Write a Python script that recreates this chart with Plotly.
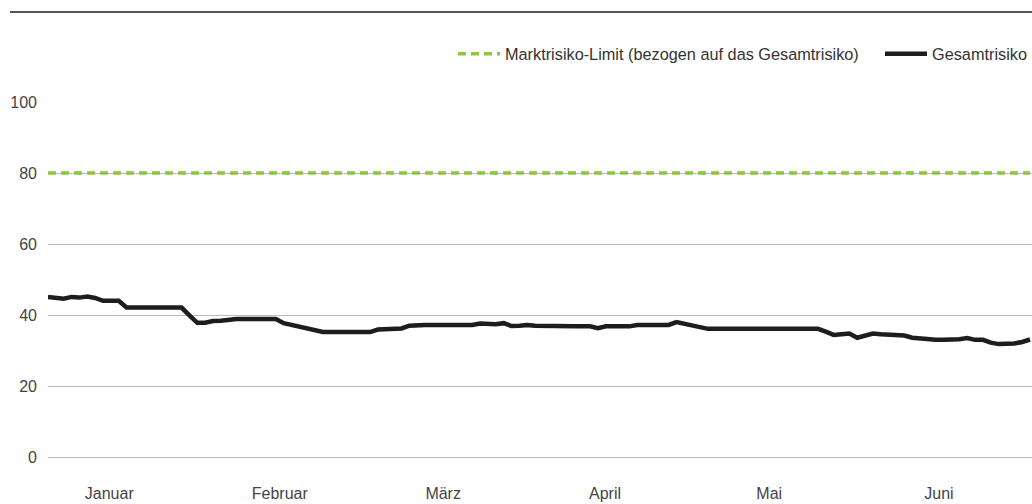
import plotly.graph_objects as go

# Gesamtrisiko, one value per trading day (H1)
gesamtrisiko = [
    45.1, 45.0, 44.6, 45.1, 44.9, 45.2, 44.8, 44.0, 44.0, 44.0,
    42.1, 42.1, 42.1, 42.1, 42.1, 42.1, 42.1, 42.1, 39.9, 37.8,
    37.8, 38.3, 38.4, 38.7, 38.9, 38.9, 38.9, 38.9, 38.9, 38.9,
    37.7, 37.2, 37.0, 36.3, 35.7, 35.2, 35.2, 35.2, 35.2, 35.2,
    35.2, 35.2, 35.9, 35.9, 35.9, 36.2, 37.0, 37.2, 37.2, 37.2,
    37.2, 37.2, 37.2, 37.2, 37.2, 37.6, 37.4, 37.4, 37.7, 36.9,
    37.0, 37.2, 37.0, 36.9, 36.8, 36.8, 36.8, 36.8, 36.8, 36.8,
    36.3, 36.8, 36.8, 36.8, 36.8, 37.2, 37.2, 37.2, 37.2, 37.2,
    38.0, 37.6, 37.0, 36.5, 36.1, 36.1, 36.1, 36.1, 36.1, 36.1,
    36.1, 36.1, 36.1, 36.1, 36.1, 36.1, 36.1, 36.1, 36.1, 35.3,
    34.4, 34.6, 34.8, 33.6, 34.3, 34.8, 34.6, 34.4, 34.1, 34.2,
    33.6, 33.3, 33.1, 33.0, 33.0, 33.0, 33.2, 33.5, 33.0, 33.0,
    32.2, 31.8, 31.8, 32.0, 32.4, 33.1,
]
limit_value = 80
months = ["Januar", "Februar", "März", "April", "Mai", "Juni"]
month_tick_pos = [7.8, 29.5, 50.3, 70.9, 91.8, 113.4]
y_ticks = [0, 20, 40, 60, 80, 100]

days = list(range(len(gesamtrisiko)))

FONT = "Liberation Sans"
fig = go.Figure()
fig.add_trace(go.Scatter(
    x=[days[0], days[-1]], y=[limit_value, limit_value], mode="lines",
    name="Marktrisiko-Limit (bezogen auf das Gesamtrisiko)",
    line=dict(color="#8cc63f", width=3.5, dash="8px,5px"),
    legend="legend",
))
fig.add_trace(go.Scatter(
    x=days, y=gesamtrisiko, mode="lines", name="Gesamtrisiko",
    line=dict(color="#1d1d1b", width=4.5),
    legend="legend2",
))

legend_common = dict(orientation="h", y=1.135, yanchor="middle",
                     font=dict(size=16.3, color="#333333"),
                     itemwidth=42, bgcolor="rgba(0,0,0,0)")

fig.update_layout(
    width=1032, height=504,
    margin=dict(l=48, r=0, t=102, b=47),
    paper_bgcolor="white", plot_bgcolor="white",
    font=dict(family=FONT, size=16, color="#444444"),
    showlegend=True,
    legend=dict(x=(458 - 48 - 5) / 984, xanchor="left", **legend_common),
    legend2=dict(x=1.0, xanchor="right", **legend_common),
    xaxis=dict(range=[0, len(days) - 1 + 0.25], showgrid=False, zeroline=False,
               showline=False, tickmode="array", tickvals=month_tick_pos,
               ticktext=months, ticks="", ticklabelstandoff=25,
               tickfont=dict(size=16, color="#444444")),
    yaxis=dict(range=[0, 100], tickmode="array", tickvals=y_ticks,
               showgrid=True, gridcolor="#bbbbbb", gridwidth=1,
               zeroline=True, zerolinecolor="#bbbbbb", zerolinewidth=1,
               showline=False, ticks="", ticklabelstandoff=10,
               tickfont=dict(size=16, color="#444444")),
    shapes=[dict(type="line", xref="paper", yref="paper",
                 x0=-0.0386, x1=1.0, y0=1.2535, y1=1.2535,
                 line=dict(color="#555555", width=2))],
)
fig.update_yaxes(layer="below traces")

fig.write_html("out.html", config={"displayModeBar": False},
               post_script="document.body.style.margin='0';")
